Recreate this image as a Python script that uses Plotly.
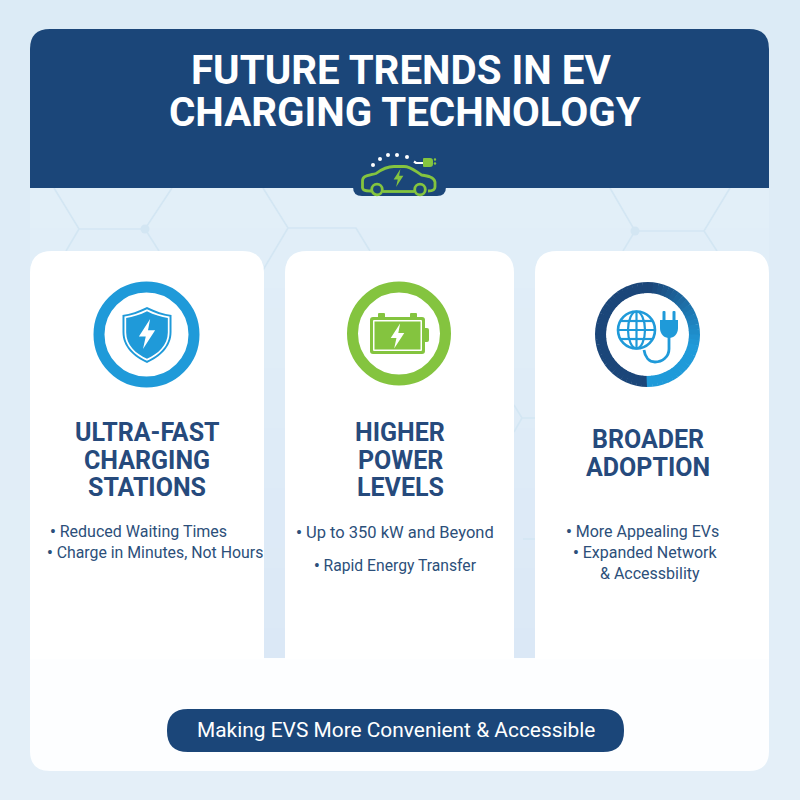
import math
import plotly.graph_objects as go

TITLE_LINES = ["FUTURE TRENDS IN EV", "CHARGING TECHNOLOGY"]
CARD_TITLES = [
    ["ULTRA-FAST", "CHARGING", "STATIONS"],
    ["HIGHER", "POWER", "LEVELS"],
    ["BROADER", "ADOPTION"],
]
CARD_BULLETS = [
    ["<b>•</b> Reduced Waiting Times", "<b>•</b> Charge in Minutes, Not Hours"],
    ["<b>•</b> Up to 350 kW and Beyond", "<b>•</b> Rapid Energy Transfer"],
    ["<b>•</b> More Appealing EVs", "<b>•</b> Expanded Network", "& Accessbility"],
]
FOOTER = "Making EVS More Convenient & Accessible"

NAVY = "#1b4679"
BLUE = "#1f9ad9"
GREEN = "#84c43f"
HEADTXT = "#264a7c"
BODYTXT = "#2c4f7a"
HEX = "#d3e6f3"

shapes = []


def path(d, fill=None, line=None, w=0):
    s = dict(type="path", path=d, xref="x", yref="y", layer="above")
    s["fillcolor"] = fill if fill else "rgba(0,0,0,0)"
    s["line"] = dict(color=line, width=w) if line else dict(width=0)
    shapes.append(s)


def rrect(x0, y0, x1, y1, tl=0, tr=0, br=0, bl=0, **kw):
    path(
        f"M{x0+tl},{y0} L{x1-tr},{y0} Q{x1},{y0} {x1},{y0+tr} L{x1},{y1-br} Q{x1},{y1} {x1-br},{y1} "
        f"L{x0+bl},{y1} Q{x0},{y1} {x0},{y1-bl} L{x0},{y0+tl} Q{x0},{y0} {x0+tl},{y0} Z",
        **kw,
    )


def circle(cx, cy, r, fill=None, line=None, w=0):
    shapes.append(dict(type="circle", xref="x", yref="y", x0=cx-r, x1=cx+r, y0=cy-r, y1=cy+r,
                       fillcolor=fill if fill else "rgba(0,0,0,0)",
                       line=dict(color=line, width=w) if line else dict(width=0), layer="above"))


def seg(p, line, w):
    d = "M" + " L".join(f"{x},{y}" for x, y in p)
    path(d, line=line, w=w)


def bolt(cx, cy, h, fill):
    k = h / 24
    pts = [(2.5, -12), (-6.5, 2), (-1, 2), (-3.2, 12), (6.5, -3), (0.8, -3)]
    path("M" + " L".join(f"{cx+a*k},{cy+b*k}" for a, b in pts) + " Z", fill=fill)


def mix(a, b, t):
    ca = [int(a[i:i+2], 16) for i in (1, 3, 5)]
    cb = [int(b[i:i+2], 16) for i in (1, 3, 5)]
    return "#" + "".join(f"{round(x+(y-x)*t):02x}" for x, y in zip(ca, cb))


# page background: side margins a little deeper at the top left
for i in range(16):
    y0, y1 = i * 50, (i + 1) * 50 + 1
    shapes.append(dict(type="rect", xref="x", yref="y", x0=0, x1=800, y0=y0, y1=y1,
                       fillcolor=mix("#dcebf6", "#e4eff8", i / 15), line=dict(width=0), layer="above"))
rrect(30, 29, 769, 771, 20, 20, 20, 20, fill="#e1eff8")
for i in range(24):
    a = 188 + i * 20
    shapes.append(dict(type="rect", xref="x", yref="y", x0=30, x1=769, y0=a, y1=a + 21,
                       fillcolor=mix("#e2eff8", "#dbe8f6", i / 23), line=dict(width=0), layer="above"))

# hexagon pattern
for p in [
    [(54, 188), (79, 229), (145, 229), (172, 188)],
    [(79, 229), (66, 251)], [(145, 229), (159, 251)],
    [(263, 188), (288, 228), (356, 228), (370, 251)],
    [(288, 228), (263, 270)],
    [(610, 188), (635, 231), (704, 231), (730, 188)],
    [(635, 231), (623, 251)], [(704, 231), (717, 251)],
    [(514, 405), (522, 418), (535, 418)], [(522, 418), (514, 432)],
    [(523, 539), (535, 539)],
]:
    seg(p, HEX, 1.6)
circle(145, 229, 4.5, fill=HEX)
circle(635, 231, 4.5, fill=HEX)

# white cards
rrect(30, 658, 769, 771, 0, 0, 20, 20, fill="#fdfeff")
for x0, x1 in [(30, 264), (285, 514), (535, 769)]:
    rrect(x0, 251, x1, 659, 22, 22, 0, 0, fill="#ffffff")

# header
rrect(30, 29, 769, 188, 20, 20, 0, 0, fill=NAVY)
rrect(353, 180, 446, 196, 0, 0, 9, 9, fill=NAVY)

# car icon
path("M371,191 C364,191 362,190 362.5,186 L362.5,181 C362.5,176 366,176 376,173.5 "
     "C382,169 387,166.5 394,166.5 L404,166.5 C411,166.5 415,171 421.5,175 "
     "C428,176 434,177 435,182 L435,187 C435,190 433,191 428,191", line=GREEN, w=2.8)
seg([(383, 191.5), (414, 191.5)], GREEN, 2.8)
circle(377, 189.5, 5.3, line=GREEN, w=2.8)
circle(420, 189.5, 5.3, line=GREEN, w=2.8)
bolt(398.5, 178, 18, GREEN)
for x, y in [(373, 165), (380, 159), (388, 155), (397, 155), (407, 157)]:
    circle(x, y, 2, fill="#ffffff")
seg([(414, 161.5), (416, 163), (424, 163)], "#ffffff", 2.2)
rrect(423, 158, 433, 167, 1, 3, 3, 1, fill=GREEN)
circle(435, 159.5, 1.2, fill=GREEN)
circle(435, 163.5, 1.2, fill=GREEN)

# icon 1: shield
circle(146.5, 334.5, 47.5, line=BLUE, w=11)


def shield(k, fill):
    cx, cy = 147, 335
    def P(x, y):
        return f"{cx+x*k},{cy+y*k}"
    path(f"M{P(0,-28)} C{P(8,-24)} {P(17,-21)} {P(24.5,-20)} L{P(24.5,-3)} "
         f"C{P(24.5,12)} {P(13,22)} {P(0,28)} C{P(-13,22)} {P(-24.5,12)} {P(-24.5,-3)} "
         f"L{P(-24.5,-20)} C{P(-17,-21)} {P(-8,-24)} {P(0,-28)} Z", fill=fill)


shield(1.0, BLUE)
shield(0.92, "#ffffff")
shield(0.85, BLUE)
bolt(147, 334, 30, "#ffffff")

# icon 2: battery
circle(399, 333.5, 46.5, line=GREEN, w=11)
rrect(378, 313, 385, 320, 1, 1, 0, 0, fill=GREEN)
rrect(410, 313, 417, 320, 1, 1, 0, 0, fill=GREEN)
rrect(424, 328, 429, 342, 0, 2, 2, 0, fill=GREEN)
rrect(370, 317, 425, 354, 3, 3, 3, 3, fill=GREEN)
rrect(373, 320, 422, 351, 1, 1, 1, 1, fill="#ffffff")
rrect(374.5, 321.5, 420.5, 349.5, 0, 0, 0, 0, fill=GREEN)
bolt(397.5, 336, 25, "#ffffff")

# icon 3: globe and plug, ring shaded from navy to blue
R3, W3 = 47, 11
CX3, CY3 = 647.5, 334.5
STEPS = 60
for i in range(STEPS):
    a0 = 90 + 360 * i / STEPS
    a1 = 90 + 360 * (i + 1.15) / STEPS
    t = (a0 - 90) / 360
    if t < 0.5:
        c = NAVY
    elif t < 0.78:
        c = mix(NAVY, BLUE, (t - 0.5) / 0.28)
    else:
        c = BLUE
    p = [(CX3 + R3 * math.cos(math.radians(a0)), CY3 + R3 * math.sin(math.radians(a0))),
         (CX3 + R3 * math.cos(math.radians(a1)), CY3 + R3 * math.sin(math.radians(a1)))]
    seg(p, c, W3)

GX, GY, GR = 636.5, 330, 18.5
circle(GX, GY, GR, line=BLUE, w=2.6)
shapes.append(dict(type="circle", xref="x", yref="y", x0=GX-8.5, x1=GX+8.5, y0=GY-GR, y1=GY+GR,
                   line=dict(color=BLUE, width=2.2), layer="above"))
seg([(GX, GY-GR), (GX, GY+GR)], BLUE, 2.2)
seg([(GX-GR, GY), (GX+GR, GY)], BLUE, 2.2)
seg([(GX-15.5, GY-9), (GX+15.5, GY-9)], BLUE, 2.2)
seg([(GX-15.5, GY+9), (GX+15.5, GY+9)], BLUE, 2.2)
path("M660,320 L678,320 L678,328 C678,334 674,338 669,338 C664,338 660,334 660,328 Z", fill=BLUE)
rrect(662.5, 311, 665.5, 321, 1, 1, 0, 0, fill=BLUE)
rrect(672.5, 311, 675.5, 321, 1, 1, 0, 0, fill=BLUE)
path("M669,337 L669,349 C669,357 662,362 655,362 C649,362 645,357 644,350", line=BLUE, w=2.8)

# footer pill
rrect(167, 709, 624, 752, 21, 21, 21, 21, fill=NAVY)

annotations = []


def text(s, x, y, size, color, bold=False):
    annotations.append(dict(text=f"<b>{s}</b>" if bold else s, x=x, y=y, xref="x", yref="y",
                            showarrow=False, xanchor="center", yanchor="middle",
                            font=dict(family="Roboto", size=size, color=color)))


for s, x, y in zip(TITLE_LINES, [400.5, 405], [70, 112.5]):
    text(s, x, y, 40.3, "#ffffff", True)

title_centres = [147, 400, 648]
title_ys = [[432, 460, 487], [432, 460, 487], [439, 467]]
for lines, cx, ys in zip(CARD_TITLES, title_centres, title_ys):
    for s, y in zip(lines, ys):
        text(s, cx, y, 25, HEADTXT, True)

bullet_pos = [[(138.5, 531), (154.5, 552)], [(395, 532), (395, 565)],
              [(642, 531), (645, 552), (650, 573)]]
bullet_size = [[16, 15.85], [16.5, 15.7], [16, 16, 16]]
for lines, pos, sizes in zip(CARD_BULLETS, bullet_pos, bullet_size):
    for s, (x, y), sz in zip(lines, pos, sizes):
        text(s, x, y, sz, BODYTXT)

text(FOOTER, 396, 730, 20.9, "#ffffff")

fig = go.Figure()
fig.update_layout(
    width=800, height=800, margin=dict(l=0, r=0, t=0, b=0),
    paper_bgcolor="#dfecf6", plot_bgcolor="#dfecf6", showlegend=False,
    xaxis=dict(range=[0, 800], visible=False, fixedrange=True),
    yaxis=dict(range=[800, 0], visible=False, fixedrange=True),
    shapes=shapes, annotations=annotations,
)
fig.write_html("out.html", config={"displayModeBar": False},
               post_script="document.body.style.margin='0';")
